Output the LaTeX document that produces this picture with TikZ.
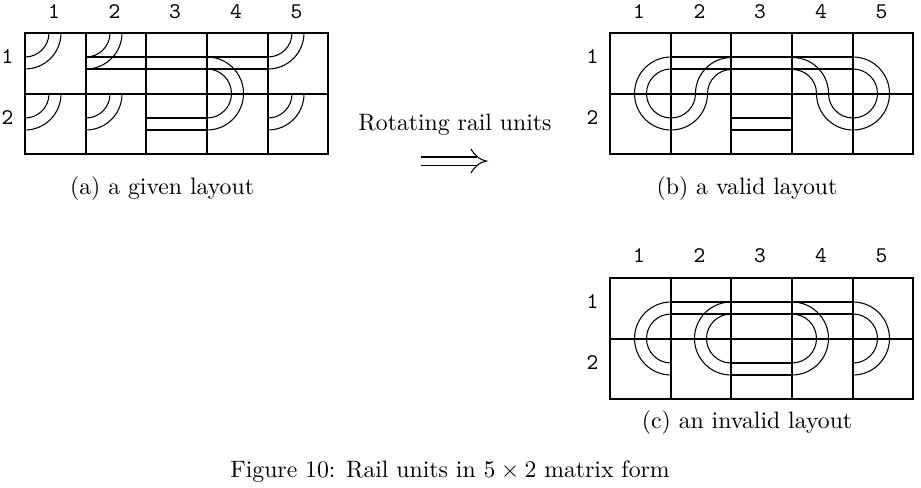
\documentclass[tikz,border=0pt]{standalone}
\usepackage{amsmath}
\tikzset{
  gridline/.style={line width=1.35pt,black},
  rail/.style={line width=1.05pt,black},
  curverail/.style={line width=0.8pt,black},
  captext/.style={anchor=base,inner sep=0pt,scale=1.78,font=\fontsize{10}{12}\selectfont},
  idx/.style={anchor=base,inner sep=0pt,scale=1.68,font=\fontsize{10}{12}\selectfont\ttfamily},
}
\newcommand{\railgrid}[2]{%
  \draw[gridline] (#1,#2) rectangle ++(303,121);
  \foreach \i in {61,121,182,243} \draw[gridline] (#1+\i,#2) -- ++(0,121);
  \draw[gridline] (#1,#2+61) -- ++(303,0);
}
\newcommand{\gridlabels}[3]{%
  \foreach \i/\d in {29/1,89.5/2,150/3,211/4,271.5/5} \node[idx] at (#1+\i,#3) {\d};
  \node[idx] at (#1-17.5,#2+30.5) {1};
  \node[idx] at (#1-17.5,#2+91) {2};
}
\newcommand{\cornerarcs}[2]{%
  \draw[curverail] (#1+24,#2) arc[start angle=0,end angle=90,radius=24];
  \draw[curverail] (#1+36,#2) arc[start angle=0,end angle=90,radius=36];
}
\begin{document}
\begin{tikzpicture}[x=0.75pt,y=-0.75pt]
\useasboundingbox (0,0) rectangle (921,487);
% ---------- (a)
\railgrid{25}{33}
\gridlabels{25}{33}{18}
\cornerarcs{25}{33}\cornerarcs{86}{33}\cornerarcs{268}{33}
\cornerarcs{25}{94}\cornerarcs{86}{94}\cornerarcs{268}{94}
\draw[rail] (86,57) -- (268,57);
\draw[rail] (86,69) -- (268,69);
\draw[rail] (146,118) -- (207,118);
\draw[rail] (146,130) -- (207,130);
\draw[curverail] (207,57) arc[start angle=-90,end angle=90,radius=36.5];
\draw[curverail] (207,69) arc[start angle=-90,end angle=90,radius=24.5];
\node[captext] (capa) at (162,194) {(a) a given layout};
% ---------- arrow
\node[captext] (rot) at (455,130) {Rotating rail units};
\coordinate (aT) at (486.5,161);
\draw[line width=0.8pt] (421,157) -- (477,157);
\draw[line width=0.8pt] (421,165.5) -- (477,165.5);
\draw[line width=0.8pt] (471,149) .. controls (475,156) and (480,160) .. (aT)
   .. controls (480,162) and (475,166) .. (471,173);
% ---------- (b)
\railgrid{610}{33}
\gridlabels{610}{33}{18}
\draw[rail] (671,57) -- (853,57);
\draw[rail] (671,69) -- (853,69);
\draw[rail] (731,118) -- (792,118);
\draw[rail] (731,130) -- (792,130);
\draw[curverail] (671,57) arc[start angle=-90,end angle=-360,radius=36.5]
   arc[start angle=180,end angle=270,radius=24];
\draw[curverail] (671,69) arc[start angle=-90,end angle=-360,radius=24.5]
   arc[start angle=180,end angle=270,radius=36];
\draw[curverail] (853,57) arc[start angle=-90,end angle=180,radius=36.5]
   arc[start angle=0,end angle=-90,radius=24];
\draw[curverail] (853,69) arc[start angle=-90,end angle=180,radius=24.5]
   arc[start angle=0,end angle=-90,radius=36];
\node[captext] (capb) at (747,194) {(b) a valid layout};
% ---------- (c)
\railgrid{610}{278}
\gridlabels{610}{278}{262}
\draw[rail] (671,302) -- (853,302);
\draw[rail] (671,314) -- (853,314);
\draw[rail] (731,363) -- (792,363);
\draw[rail] (731,375) -- (792,375);
\foreach \r/\t in {36.5/302,24.5/314}{
  \draw[curverail] (671,\t) arc[start angle=-90,end angle=-270,radius=\r];
  \draw[curverail] (731,\t) arc[start angle=-90,end angle=-270,radius=\r];
  \draw[curverail] (792,\t) arc[start angle=-90,end angle=90,radius=\r];
  \draw[curverail] (853,\t) arc[start angle=-90,end angle=90,radius=\r];
}
\node[captext] (capc) at (747,428) {(c) an invalid layout};
% ---------- figure caption
\node[captext] (fig) at (450,477) {Figure 10: Rail units in $5\times 2$ matrix form};
\end{tikzpicture}
\end{document}
